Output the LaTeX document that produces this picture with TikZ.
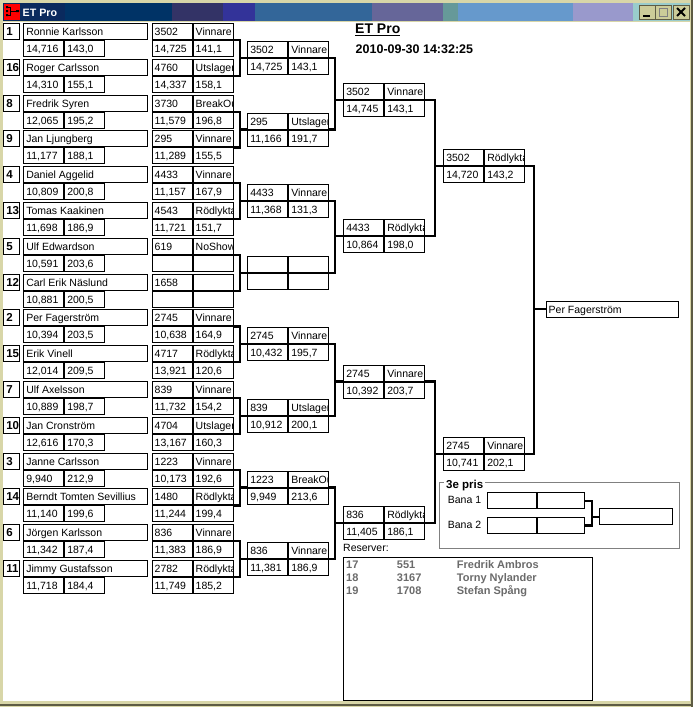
\documentclass[tikz,border=0pt]{standalone}
\usepackage{fontspec}
\setmainfont{Liberation Sans}
\usepackage{tikz}
\usetikzlibrary{calc,positioning}

\definecolor{ram}{HTML}{D8D6A8}
\definecolor{ramkant}{HTML}{5E5C44}
\definecolor{knapp}{HTML}{CCCC99}
\definecolor{gruppgra}{HTML}{808080}
\definecolor{reservgra}{HTML}{6B6B6B}

\newcommand{\cellfont}{\fontsize{10.5}{12}\selectfont}
\newcommand{\seedfont}{\bfseries\fontsize{11.5}{12}\selectfont}

% ruta: bil, resultat, tid, fart
\newcommand{\carbox}[7]{%
  \node[cell={#4}] (#1-a) at (#2,#3) {};
  \node[cell={#5}] (#1-b) at (#1-a.north east) {};
  \node[cell={#6}] (#1-c) at (#1-a.south west) {};
  \node[cell={#7}] (#1-d) at (#1-c.north east) {};
}
% klammer: ovre, undre, nasta, avstand
\newcommand{\joinpair}[4]{%
  \draw[link] (#1) -- ++(#4,0) coordinate (jp) |- (#2);
  \draw[link] (#3) -- (#3 -| jp);
}

\begin{document}
\begin{tikzpicture}[x=1pt,y=-1pt,
  cell/.style={draw, line width=1pt, anchor=north west, inner sep=0pt,
    minimum width=40pt, minimum height=16pt,
    path picture={\node[draw=none, anchor=base west, inner sep=0pt,
        minimum width=0pt, minimum height=0pt, font=\cellfont]
      at ([xshift=2pt,yshift=4pt]path picture bounding box.south west) {#1};}},
  cell/.default={},
  seedbox/.style={cell={\seedfont #1}, minimum width=16pt},
  link/.style={line width=2.2pt, line join=miter},
  knappruta/.style={fill=knapp, draw=ramkant, line width=0.8pt},
  reserv/.style={anchor=base west, inner sep=0pt, text=reservgra,
    font=\bfseries\fontsize{11}{12}\selectfont}]
  \useasboundingbox (0,0) rectangle (693,707);

  % fonstret
  \fill[ram] (0,0) rectangle (693,707);
  \fill[ramkant] (691,0) rectangle (693,707);
  \fill[ramkant] (0,703.5) rectangle (693,705.5);
  \fill[white] (3,22) rectangle (689.5,701);
  \foreach \fra/\till/\farg in {3/65/0A2A5E, 65/172/003366, 172/223/333366,
      223/255/333399, 255/372/336699, 372/443/666699, 443/458/669999,
      458/573/6699CC, 573/633/9999CC, 633/690/99CCCC}{
    \definecolor{titelfarg}{HTML}{\farg}
    \fill[titelfarg] (\fra,2.7) rectangle (\till,20.7);
  }
  \fill[red] (4,3.5) rectangle (20,19.5);
  \fill[black] (6,6) rectangle (8,8) (6,10) rectangle (8,12) (6,14) rectangle (8,16)
    (16,10) rectangle (19,12);
  \draw[black, line width=1pt] (8,7) -- (10,7) -- (10,15) -- (8,15) (10,11) -- (16,11);
  \node[anchor=base west, inner sep=0pt, text=white,
    font=\bfseries\fontsize{10.7}{12}\selectfont] (fonsternamn) at (22.5,16.5) {ET Pro};
  \filldraw[knappruta] (639.5,5) rectangle (655,19);
  \filldraw[knappruta] (655.5,5) rectangle (671,19);
  \filldraw[knappruta] (673,5) rectangle (689,19);
  \draw[black, line width=2pt] (643,15.5) -- (649.5,15.5);
  \draw[gruppgra, line width=1pt] (659,8) rectangle (667,16);
  \draw[gruppgra, line width=1.5pt] (659,8.5) -- (667,8.5);
  \draw[black, line width=1.8pt] (677,8) -- (685,16) (685,8) -- (677,16);

  % rubrik
  \node[anchor=base west, inner sep=0pt, font=\bfseries\fontsize{14}{16}\selectfont]
    (titel) at (355,33.5) {\underline{ET Pro}};
  \node[anchor=base west, inner sep=0pt, font=\bfseries\fontsize{12.5}{14}\selectfont]
    (datum) at (355.5,53) {2010-09-30 14:32:25};

  % spelare
  \foreach \i/\seed/\namn/\tid/\fart in {
      0/1/Ronnie Karlsson/{14,716}/{143,0},
      1/16/Roger Carlsson/{14,310}/{155,1},
      2/8/Fredrik Syren/{12,065}/{195,2},
      3/9/Jan Ljungberg/{11,177}/{188,1},
      4/4/Daniel Aggelid/{10,809}/{200,8},
      5/13/Tomas Kaakinen/{11,698}/{186,9},
      6/5/Ulf Edwardson/{10,591}/{203,6},
      7/12/Carl Erik Näslund/{10,881}/{200,5},
      8/2/Per Fagerström/{10,394}/{203,5},
      9/15/Erik Vinell/{12,014}/{209,5},
      10/7/Ulf Axelsson/{10,889}/{198,7},
      11/10/Jan Cronström/{12,616}/{170,3},
      12/3/Janne Carlsson/{9,940}/{212,9},
      13/14/Berndt Tomten Sevillius/{11,140}/{199,6},
      14/6/Jörgen Karlsson/{11,342}/{187,4},
      15/11/Jimmy Gustafsson/{11,718}/{184,4}}{
    \pgfmathsetmacro{\y}{23+35.8*\i}
    \node[seedbox={\seed}] (seed\i) at (3.3,\y) {};
    \node[cell={\namn}, minimum width=124pt] (namn\i) at (23.3,\y) {};
    \node[cell={\tid}] (tid\i) at (namn\i.south west) {};
    \node[cell={\fart}] (fart\i) at (tid\i.north east) {};
  }

  % omgang 1
  \foreach \i/\bil/\res/\tid/\fart in {
      0/3502/Vinnare/{14,725}/{141,1},
      1/4760/Utslagen/{14,337}/{158,1},
      2/3730/BreakOut/{11,579}/{196,8},
      3/295/Vinnare/{11,289}/{155,5},
      4/4433/Vinnare/{11,157}/{167,9},
      5/4543/Rödlykta/{11,721}/{151,7},
      6/619/NoShow/{}/{},
      7/1658/{}/{}/{},
      8/2745/Vinnare/{10,638}/{164,9},
      9/4717/Rödlykta/{13,921}/{120,6},
      10/839/Vinnare/{11,732}/{154,2},
      11/4704/Utslagen/{13,167}/{160,3},
      12/1223/Vinnare/{10,173}/{192,6},
      13/1480/Rödlykta/{11,244}/{199,4},
      14/836/Vinnare/{11,383}/{186,9},
      15/2782/Rödlykta/{11,749}/{185,2}}{
    \pgfmathsetmacro{\y}{23+35.8*\i}
    \carbox{r1-\i}{151.7}{\y}{\bil}{\res}{\tid}{\fart}
  }

  % omgang 2
  \foreach \i/\bil/\res/\tid/\fart in {
      0/3502/Vinnare/{14,725}/{143,1},
      1/295/Utslagen/{11,166}/{191,7},
      2/4433/Vinnare/{11,368}/{131,3},
      3/{}/{}/{}/{},
      4/2745/Vinnare/{10,432}/{195,7},
      5/839/Utslagen/{10,912}/{200,1},
      6/1223/BreakOut/{9,949}/{213,6},
      7/836/Vinnare/{11,381}/{186,9}}{
    \pgfmathsetmacro{\y}{23+35.8*(2*\i+0.5)}
    \carbox{r2-\i}{247.3}{\y}{\bil}{\res}{\tid}{\fart}
  }

  % kvartsfinal och semifinal
  \foreach \i/\y/\bil/\res/\tid/\fart in {
      0/83/3502/Vinnare/{14,745}/{143,1},
      1/219/4433/Rödlykta/{10,864}/{198,0},
      2/364.5/2745/Vinnare/{10,392}/{203,7},
      3/506/836/Rödlykta/{11,405}/{186,1}}{
    \carbox{r3-\i}{343.3}{\y}{\bil}{\res}{\tid}{\fart}
  }
  \foreach \i/\y/\bil/\res/\tid/\fart in {
      0/149/3502/Rödlykta/{14,720}/{143,2},
      1/437/2745/Vinnare/{10,741}/{202,1}}{
    \carbox{r4-\i}{443.3}{\y}{\bil}{\res}{\tid}{\fart}
  }
  \node[cell={Per Fagerström}, minimum width=132pt] (final) at (545.7,300.7) {};

  \foreach \upp/\ned/\nxt in {0/1/0,2/3/1,4/5/2,6/7/3,8/9/4,10/11/5,12/13/6,14/15/7}
    {\joinpair{r1-\upp-b.south east}{r1-\ned-b.south east}{r2-\nxt-a.south west}{6.5}}
  \foreach \upp/\ned/\nxt in {0/1/0,2/3/1,4/5/2,6/7/3}
    {\joinpair{r2-\upp-b.south east}{r2-\ned-b.south east}{r3-\nxt-a.south west}{5.7}}
  \foreach \upp/\ned/\nxt in {0/1/0,2/3/1}
    {\joinpair{r3-\upp-b.south east}{r3-\ned-b.south east}{r4-\nxt-a.south west}{10}}
  \joinpair{r4-0-b.south east}{r4-1-b.south east}{final.west}{9}

  % 3e pris
  \node[draw=gruppgra, line width=1pt, anchor=north west, inner sep=0pt,
    minimum width=239.4pt, minimum height=65.4pt] (grupp) at (439.3,482.3) {};
  \node[anchor=base west, fill=white, inner xsep=2pt, inner ysep=1pt,
    font=\bfseries\fontsize{11.5}{12}\selectfont] (prisrubrik) at (444,488.5) {3e pris};
  \node[anchor=base west, inner sep=0pt, font=\cellfont] (bana1) at (447.7,503.5) {Bana 1};
  \node[anchor=base west, inner sep=0pt, font=\cellfont] (bana2) at (447.7,528.5) {Bana 2};
  \node[cell, minimum width=48.2pt] (bana1-a) at (487.3,492.3) {};
  \node[cell, minimum width=47.8pt] (bana1-b) at (bana1-a.north east) {};
  \node[cell, minimum width=48.2pt] (bana2-a) at (487.3,517) {};
  \node[cell, minimum width=47.8pt] (bana2-b) at (bana2-a.north east) {};
  \node[cell, minimum width=72.4pt] (brons) at (599.3,508.3) {};
  \joinpair{bana1-b.east}{bana2-b.east}{brons.west}{6.7}

  % reserver
  \node[anchor=base west, inner sep=0pt, font=\cellfont] (reservrubrik) at (343,551.7) {Reserver:};
  \node[draw, line width=1pt, anchor=north west, inner sep=0pt,
    minimum width=249pt, minimum height=143.3pt] (reservlista) at (343.3,556.7) {};
  \foreach \i/\nr/\bil/\namn in {0/17/551/Fredrik Ambros, 1/18/3167/Torny Nylander,
      2/19/1708/Stefan Spång}{
    \node[reserv] (resnr\i) at (346,568.3+13*\i) {\nr};
    \node[reserv] (resbil\i) at (396.7,568.3+13*\i) {\bil};
    \node[reserv] (resnamn\i) at (456.7,568.3+13*\i) {\namn};
  }
\end{tikzpicture}
\end{document}
